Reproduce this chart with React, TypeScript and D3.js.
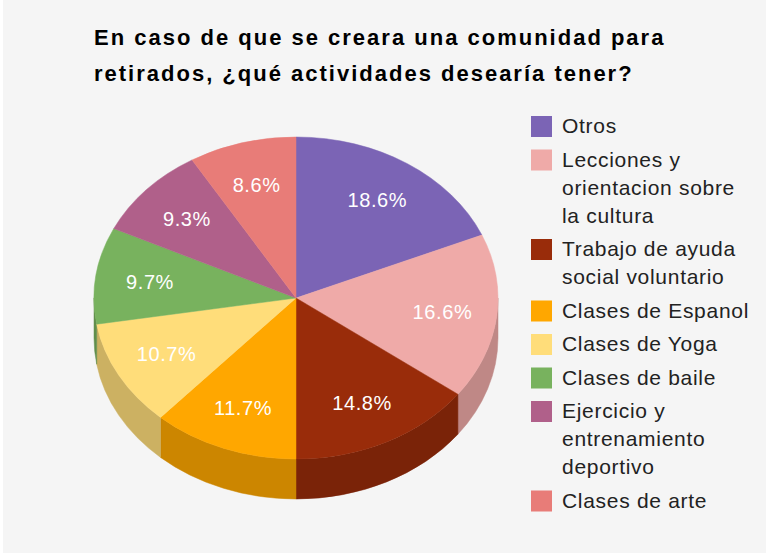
import React from 'react';
import * as d3 from 'd3';

const titleLines = ['En caso de que se creara una comunidad para', 'retirados, ¿qué actividades desearía tener?'];
const categories = [
  'Otros',
  'Lecciones y orientacion sobre la cultura',
  'Trabajo de ayuda social voluntario',
  'Clases de Espanol',
  'Clases de Yoga',
  'Clases de baile',
  'Ejercicio y entrenamiento deportivo',
  'Clases de arte',
];
const legendLines = [
  ['Otros'],
  ['Lecciones y', 'orientacion sobre', 'la cultura'],
  ['Trabajo de ayuda', 'social voluntario'],
  ['Clases de Espanol'],
  ['Clases de Yoga'],
  ['Clases de baile'],
  ['Ejercicio y', 'entrenamiento', 'deportivo'],
  ['Clases de arte'],
];
const values = [18.6, 16.6, 14.8, 11.7, 10.7, 9.7, 9.3, 8.6];
const colors = ['#7b64b5', '#efaaa8', '#992c0a', '#ffa700', '#ffdd7a', '#78b25e', '#b0608a', '#e87c78'];

const W = 768;
const H = 553;
const cx = 296;
const cy = 298;
const rx = 202;
const ry = 161;
const depth = 40;
const FONT = '"Liberation Sans", Arial, Helvetica, sans-serif';

function pt(a: number, dy = 0): [number, number] {
  return [cx + rx * Math.sin(a), cy - ry * Math.cos(a) + dy];
}

function darker(c: string) {
  const col = d3.rgb(c);
  return d3.rgb(col.r * 0.8, col.g * 0.8, col.b * 0.8).formatHex();
}

export default function App() {
  const data = categories.map((c, i) => ({ name: c, value: values[i], color: colors[i] }));
  const arcs = d3
    .pie<any>()
    .sort(null)
    .value((d: any) => d.value)
    .startAngle(0)
    .endAngle(2 * Math.PI)(data);

  const sides = arcs
    .map((a, i) => {
      const s0 = Math.max(a.startAngle, Math.PI / 2);
      const s1 = Math.min(a.endAngle, (3 * Math.PI) / 2);
      if (s1 <= s0) return null;
      const p0 = pt(s0);
      const p1 = pt(s1);
      const q1 = pt(s1, depth);
      const q0 = pt(s0, depth);
      const d = `M${p0[0]},${p0[1]} A${rx},${ry} 0 0 1 ${p1[0]},${p1[1]} L${q1[0]},${q1[1]} A${rx},${ry} 0 0 0 ${q0[0]},${q0[1]} Z`;
      const col = darker(colors[i]);
      return <path key={'s' + i} d={d} fill={col} stroke={col} strokeWidth={0.5} />;
    })
    .filter(Boolean);

  const tops = arcs.map((a, i) => {
    const p0 = pt(a.startAngle);
    const p1 = pt(a.endAngle);
    const large = a.endAngle - a.startAngle > Math.PI ? 1 : 0;
    const d = `M${cx},${cy} L${p0[0]},${p0[1]} A${rx},${ry} 0 ${large} 1 ${p1[0]},${p1[1]} Z`;
    return <path key={'t' + i} d={d} fill={colors[i]} stroke={colors[i]} strokeWidth={0.5} />;
  });

  const k = 0.73;
  const labels = arcs.map((a, i) => {
    const m = (a.startAngle + a.endAngle) / 2;
    const x = cx + rx * k * Math.sin(m);
    const y = cy - ry * k * Math.cos(m);
    return (
      <text key={'l' + i} x={x} y={y} dy="0.36em" textAnchor="middle" fill="#ffffff" fontSize={20} letterSpacing={0.6} fontFamily={FONT}>
        {values[i].toFixed(1)}%
      </text>
    );
  });

  let yTop = 116;
  const legend = legendLines.map((lines, i) => {
    const y0 = yTop;
    yTop += 33.5 + (lines.length - 1) * 28;
    return (
      <g key={'g' + i}>
        <rect x={531} y={y0} width={21} height={21} fill={colors[i]} />
        {lines.map((ln, j) => (
          <text key={j} x={562} y={y0 + 17 + j * 28} fill="#222222" fontSize={21} letterSpacing={0.7} fontFamily={FONT}>
            {ln}
          </text>
        ))}
      </g>
    );
  });

  return (
    <svg width={W} height={H} style={{ position: 'absolute', left: 0, top: 0, display: 'block' }}>
      <rect x={0} y={0} width={W} height={H} fill="#ffffff" />
      <rect x={3} y={0} width={W - 5} height={H} fill="#f5f5f5" />
      {titleLines.map((t, i) => (
        <text key={'tt' + i} x={94} y={45 + i * 35.5} fill="#000000" fontSize={22} fontWeight="bold" letterSpacing={2} fontFamily={FONT}>
          {t}
        </text>
      ))}
      {sides}
      {tops}
      {labels}
      {legend}
    </svg>
  );
}
